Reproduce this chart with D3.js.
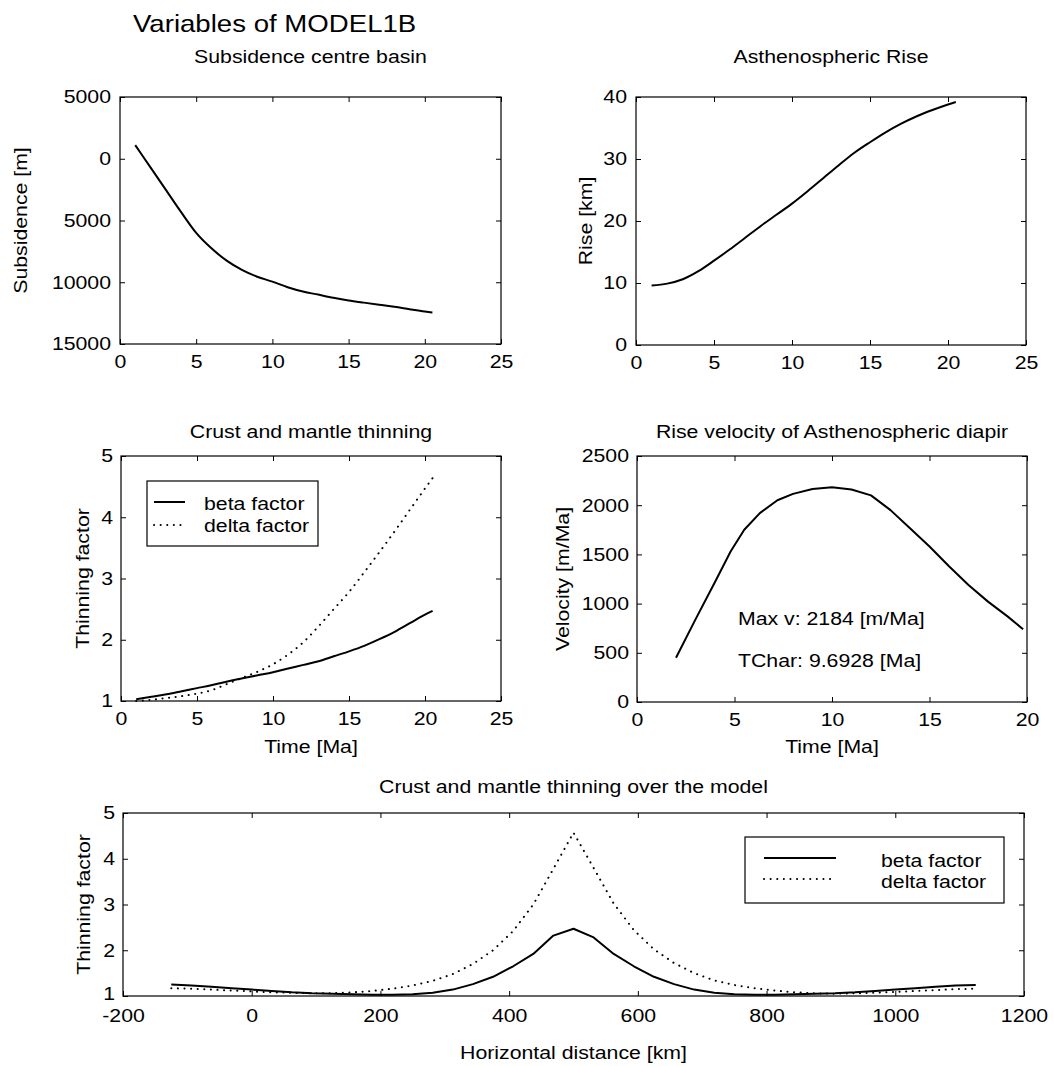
<!DOCTYPE html>
<html>
<head>
<meta charset="utf-8">
<script src="https://cdn.jsdelivr.net/npm/d3@7"></script>
<style>
  html, body { margin: 0; padding: 0; background: #fff; }
  svg text { font-family: "Liberation Sans", Arial, Helvetica, sans-serif; fill: #000; }
</style>
</head>
<body>
<svg id="chart" width="1054" height="1066"></svg>
<script>
// ---------------- DATA ----------------
const suptitle = "Variables of MODEL1B";

// Panel 1: Subsidence centre basin
const timeSub = [1,2,3,4,5,6,7,8,9,10,11,12,13,14,15,16,17,18,19,20,20.5];
const subsidence = [-1100,700,2500,4300,6000,7250,8250,9000,9550,9950,10400,10750,11000,11250,11470,11650,11820,11980,12180,12370,12450];
const subXTicks = [0,5,10,15,20,25];
const subYTicks = [-5000,0,5000,10000,15000];
const subYTickLabels = ["5000","0","5000","10000","15000"];

// Panel 2: Asthenospheric Rise
const timeRise = [1,2,3,4,5,6,7,8,9,10,11,12,13,14,15,16,17,18,19,20,20.5];
const rise = [9.6,9.9,10.6,11.9,13.6,15.4,17.3,19.2,21.0,22.8,24.8,26.9,29.0,31.0,32.7,34.3,35.7,36.9,37.9,38.8,39.2];
const riseXTicks = [0,5,10,15,20,25];
const riseYTicks = [0,10,20,30,40];

// Panel 3: Crust and mantle thinning (time)
const timeThin = [1,2,3,4,5,6,7,8,9,10,11,12,13,14,15,16,17,18,19,20,20.5];
const betaTime = [1.03,1.07,1.11,1.16,1.21,1.26,1.32,1.37,1.42,1.47,1.53,1.59,1.65,1.73,1.81,1.90,2.01,2.13,2.27,2.41,2.47];
const deltaTime = [1.00,1.02,1.05,1.08,1.12,1.18,1.28,1.38,1.48,1.60,1.76,1.96,2.22,2.50,2.78,3.10,3.43,3.77,4.12,4.47,4.64];
const thinXTicks = [0,5,10,15,20,25];
const thinYTicks = [1,2,3,4,5];
const legendLabels = ["beta factor","delta factor"];

// Panel 4: Rise velocity of Asthenospheric diapir
const timeVel = [2,3,4,4.8,5.5,6.3,7.2,8,9,10,11,12,13,14,15,16,17,18,19,19.8];
const velocity = [450,840,1220,1530,1750,1920,2050,2115,2165,2182,2160,2100,1950,1765,1580,1380,1190,1020,870,740];
const velXTicks = [0,5,10,15,20];
const velYTicks = [0,500,1000,1500,2000,2500];
const velNotes = ["Max v: 2184 [m/Ma]","TChar: 9.6928 [Ma]"];

// Panel 5: Crust and mantle thinning over the model
const distance = [-125,-93.75,-62.5,-31.25,0,31.25,62.5,93.75,125,156.25,187.5,218.75,250,281.25,312.5,343.75,375,406.25,437.5,468.75,500,531.25,562.5,593.75,625,656.25,687.5,718.75,750,781.25,812.5,843.75,875,906.25,937.5,968.75,1000,1031.25,1062.5,1093.75,1125];
const betaProfile = [1.25,1.23,1.20,1.17,1.14,1.11,1.08,1.06,1.05,1.04,1.03,1.03,1.04,1.07,1.14,1.26,1.42,1.65,1.92,2.32,2.47,2.28,1.92,1.65,1.42,1.26,1.14,1.07,1.04,1.03,1.03,1.04,1.05,1.06,1.08,1.11,1.14,1.17,1.20,1.23,1.24];
const deltaProfile = [1.17,1.16,1.14,1.12,1.10,1.08,1.07,1.06,1.06,1.08,1.11,1.16,1.23,1.33,1.48,1.70,2.00,2.42,3.00,3.78,4.57,3.80,3.02,2.44,2.02,1.72,1.50,1.34,1.24,1.17,1.12,1.08,1.06,1.05,1.06,1.07,1.09,1.11,1.13,1.15,1.16];
const profXTicks = [-200,0,200,400,600,800,1000,1200];
const profYTicks = [1,2,3,4,5];

// ---------------- DRAWING ----------------
const SX = 1.15;          // horizontal text stretch to match the scan
const FS = 18.5;          // base font size
const svg = d3.select("#chart");

function label(g, x, y, str, size, anchor, rot) {
  return g.append("text")
    .attr("transform", `translate(${x},${y})${rot ? " rotate(" + rot + ")" : ""} scale(${SX},1)`)
    .attr("text-anchor", anchor || "middle")
    .style("font-size", size + "px")
    .text(str);
}

function stretchTicks(axisG) {
  axisG.selectAll(".tick text").each(function () {
    const t = d3.select(this);
    const x = +t.attr("x") || 0;
    t.attr("x", x / SX).attr("transform", `scale(${SX},1)`).style("font-size", FS + "px");
  });
}

function panel(o) {
  const g = svg.append("g");
  const xs = d3.scaleLinear().domain(o.xDomain).range([o.x0, o.x1]);
  const ys = d3.scaleLinear().domain(o.yDomain).range([o.y1, o.y0]);
  const tl = 5;
  const fmtX = o.xLabels ? ((d, i) => o.xLabels[i]) : (d => d);
  const fmtY = o.yLabels ? ((d, i) => o.yLabels[i]) : (d => d);

  const ax = g.append("g").attr("transform", `translate(0,${o.y1})`)
    .call(d3.axisBottom(xs).tickValues(o.xTicks).tickFormat(fmtX).tickSizeInner(-tl).tickSizeOuter(0).tickPadding(o.xPad || 11));
  const axT = g.append("g").attr("transform", `translate(0,${o.y0})`)
    .call(d3.axisTop(xs).tickValues(o.xTicks).tickFormat("").tickSizeInner(-tl).tickSizeOuter(0));
  const ay = g.append("g").attr("transform", `translate(${o.x0},0)`)
    .call(d3.axisLeft(ys).tickValues(o.yTicks).tickFormat(fmtY).tickSizeInner(-tl).tickSizeOuter(0).tickPadding(o.yPad || 9));
  const ayR = g.append("g").attr("transform", `translate(${o.x1},0)`)
    .call(d3.axisRight(ys).tickValues(o.yTicks).tickFormat("").tickSizeInner(-tl).tickSizeOuter(0));
  [ax, axT, ay, ayR].forEach(a => {
    a.select(".domain").remove();
    a.selectAll(".tick line").attr("stroke", "#000").attr("stroke-width", 1);
  });
  stretchTicks(ax); stretchTicks(ay);
  if (o.lowYdy) {
    ay.selectAll(".tick text").filter(d => d === o.yDomain[0]).attr("dy", o.lowYdy);
  }

  g.append("rect").attr("x", o.x0).attr("y", o.y0)
    .attr("width", o.x1 - o.x0).attr("height", o.y1 - o.y0)
    .attr("fill", "none").attr("stroke", "#000").attr("stroke-width", 1.2);

  if (o.title) label(g, (o.x0 + o.x1) / 2, o.titleY, o.title, FS, "middle");
  if (o.xLabel) label(g, (o.x0 + o.x1) / 2, o.xLabelY, o.xLabel, FS, "middle");
  if (o.yLabel) label(g, o.yLabelX, (o.y0 + o.y1) / 2, o.yLabel, FS, "middle", -90);
  return { g, xs, ys };
}

function drawLine(p, xsArr, ysArr, dotted, smooth) {
  const line = d3.line().x((d, i) => p.xs(xsArr[i])).y(d => p.ys(d))
    .curve(smooth ? d3.curveMonotoneX : d3.curveLinear);
  const path = p.g.append("path").datum(ysArr)
    .attr("d", line)
    .attr("fill", "none")
    .attr("stroke", "#000")
    .attr("stroke-width", 2)
    .attr("stroke-linejoin", "round");
  if (dotted) path.attr("stroke-dasharray", "0.1 6.5").attr("stroke-linecap", "round");
  return path;
}

function legend(g, bx, by, bw, bh, lx0, lx1, tx, rows) {
  g.append("rect").attr("x", bx).attr("y", by).attr("width", bw).attr("height", bh)
    .attr("fill", "#fff").attr("stroke", "#000").attr("stroke-width", 1.2);
  rows.forEach(r => {
    const l = g.append("line").attr("x1", lx0).attr("x2", lx1).attr("y1", r.ly).attr("y2", r.ly)
      .attr("stroke", "#000").attr("stroke-width", 2);
    if (r.dotted) l.attr("stroke-dasharray", "0.1 6.5").attr("stroke-linecap", "round");
    label(g, tx, r.ty, r.text, FS, "start");
  });
}

// Suptitle
label(svg, 133, 32, suptitle, 24, "start");

// Panel 1
const p1 = panel({
  x0: 120, x1: 501, y0: 97, y1: 344,
  xDomain: [0, 25], yDomain: [15000, -5000],
  xTicks: subXTicks, yTicks: subYTicks, yLabels: subYTickLabels,
  title: "Subsidence centre basin", titleY: 63,
  yLabel: "Subsidence [m]", yLabelX: 27
});
drawLine(p1, timeSub, subsidence, false, true);

// Panel 2
const p2 = panel({
  x0: 636, x1: 1026, y0: 97, y1: 345,
  xDomain: [0, 25], yDomain: [0, 40],
  xTicks: riseXTicks, yTicks: riseYTicks,
  title: "Asthenospheric Rise", titleY: 63,
  yLabel: "Rise [km]", yLabelX: 592
});
drawLine(p2, timeRise, rise, false, true);

// Panel 3
const p3 = panel({
  x0: 121, x1: 501, y0: 456, y1: 701,
  xDomain: [0, 25], yDomain: [1, 5],
  xTicks: thinXTicks, yTicks: thinYTicks, yPad: 8,
  title: "Crust and mantle thinning", titleY: 438,
  xLabel: "Time [Ma]", xLabelY: 753,
  yLabel: "Thinning factor", yLabelX: 89
});
drawLine(p3, timeThin, betaTime, false, true);
drawLine(p3, timeThin, deltaTime, true, true);
legend(p3.g, 147, 481, 171, 65, 154, 185, 204, [
  { ly: 502, ty: 510, text: legendLabels[0], dotted: false },
  { ly: 525, ty: 532, text: legendLabels[1], dotted: true }
]);

// Panel 4
const p4 = panel({
  x0: 637, x1: 1027, y0: 456, y1: 702,
  xDomain: [0, 20], yDomain: [0, 2500],
  xTicks: velXTicks, yTicks: velYTicks, yPad: 8,
  title: "Rise velocity of Asthenospheric diapir", titleY: 438,
  xLabel: "Time [Ma]", xLabelY: 753,
  yLabel: "Velocity [m/Ma]", yLabelX: 569
});
drawLine(p4, timeVel, velocity, false, false);
label(p4.g, 738, 625, velNotes[0], FS, "start");
label(p4.g, 738, 667, velNotes[1], FS, "start");

// Panel 5
const p5 = panel({
  x0: 123, x1: 1024, y0: 813, y1: 996,
  xDomain: [-200, 1200], yDomain: [1, 5],
  xTicks: profXTicks, yTicks: profYTicks, xPad: 13, yPad: 8, lowYdy: "0.18em",
  title: "Crust and mantle thinning over the model", titleY: 793,
  xLabel: "Horizontal distance [km]", xLabelY: 1059,
  yLabel: "Thinning factor", yLabelX: 90
});
drawLine(p5, distance, betaProfile, false, false);
drawLine(p5, distance, deltaProfile, true, false);
legend(p5.g, 745, 837, 259, 66, 764, 836, 881, [
  { ly: 858, ty: 867, text: legendLabels[0], dotted: false },
  { ly: 879, ty: 888, text: legendLabels[1], dotted: true }
]);
</script>
</body>
</html>
